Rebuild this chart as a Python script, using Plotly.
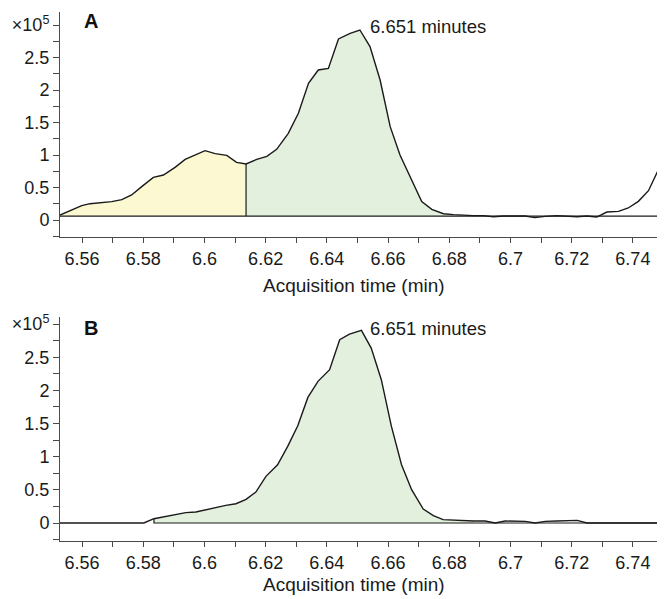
import plotly.graph_objects as go

# ---------------- data (intensity in units of 1e5 counts) ----------------
TIME_A = [6.5528, 6.5566, 6.5599, 6.5626, 6.5664, 6.5697, 6.5730, 6.5762, 6.5795, 6.5833,
          6.5866, 6.5904, 6.5937, 6.5969, 6.6002, 6.6035, 6.6073, 6.6105, 6.6136, 6.6171,
          6.6204, 6.6236, 6.6274, 6.6307, 6.6340, 6.6372, 6.6405, 6.6438, 6.6476, 6.6508,
          6.6541, 6.6574, 6.6607, 6.6639, 6.6672, 6.6710, 6.6743, 6.6781, 6.6814, 6.6846,
          6.6879, 6.6912, 6.6944, 6.6977, 6.7015, 6.7048, 6.7080, 6.7113, 6.7151, 6.7184,
          6.7217, 6.7249, 6.7282, 6.7315, 6.7353, 6.7385, 6.7418, 6.7451, 6.7483, 6.7505]
INT_A = [0.077, 0.154, 0.221, 0.251, 0.262, 0.282, 0.313, 0.385, 0.513, 0.656,
         0.692, 0.810, 0.933, 1.000, 1.067, 1.021, 0.995, 0.887, 0.862, 0.933,
         0.979, 1.087, 1.333, 1.641, 2.103, 2.308, 2.333, 2.785, 2.872, 2.923,
         2.667, 2.154, 1.436, 1.000, 0.667, 0.282, 0.164, 0.097, 0.082, 0.072,
         0.067, 0.067, 0.051, 0.062, 0.062, 0.062, 0.036, 0.056, 0.067, 0.062,
         0.051, 0.062, 0.046, 0.123, 0.133, 0.185, 0.287, 0.451, 0.769, 0.830]
BASE_A = 0.06
SPLIT_A = 6.6136      # boundary between the two integrated regions
END_A = 6.6846

TIME_B = [6.5527, 6.5560, 6.5593, 6.5626, 6.5658, 6.5691, 6.5724, 6.5757, 6.5790, 6.5802,
          6.5835, 6.5873, 6.5906, 6.5939, 6.5972, 6.6004, 6.6037, 6.6070, 6.6103, 6.6136,
          6.6168, 6.6201, 6.6239, 6.6272, 6.6305, 6.6338, 6.6371, 6.6409, 6.6442, 6.6474,
          6.6513, 6.6545, 6.6578, 6.6611, 6.6644, 6.6677, 6.6715, 6.6748, 6.6780, 6.6813,
          6.6846, 6.6879, 6.6917, 6.6950, 6.6983, 6.7015, 6.7048, 6.7081, 6.7114, 6.7152,
          6.7185, 6.7218, 6.7250, 6.7283, 6.7316, 6.7348, 6.7381, 6.7414, 6.7447, 6.7479,
          6.7505]
INT_B = [0.0, 0.0, 0.0, 0.0, 0.0, 0.0, 0.0, 0.0, 0.0, 0.0,
         0.065, 0.101, 0.136, 0.156, 0.166, 0.201, 0.226, 0.266, 0.291, 0.357,
         0.467, 0.704, 0.879, 1.156, 1.467, 1.894, 2.136, 2.312, 2.764, 2.849,
         2.905, 2.638, 2.161, 1.457, 0.879, 0.503, 0.211, 0.111, 0.050, 0.040,
         0.035, 0.030, 0.030, 0.000, 0.030, 0.030, 0.025, 0.000, 0.025, 0.030,
         0.030, 0.040, 0.000, 0.000, 0.000, 0.000, 0.000, 0.000, 0.000, 0.000,
         0.000]
BASE_B = 0.0
START_B = 6.5835
END_B = 6.6879

PEAK_LABEL = "6.651 minutes"
PEAK_TIME = 6.651
X_TICKS = [6.56, 6.57, 6.58, 6.59, 6.60, 6.61, 6.62, 6.63, 6.64, 6.65,
           6.66, 6.67, 6.68, 6.69, 6.70, 6.71, 6.72, 6.73, 6.74]
X_TICK_TEXT = ["6.56", "", "6.58", "", "6.6", "", "6.62", "", "6.64", "",
               "6.66", "", "6.68", "", "6.7", "", "6.72", "", "6.74"]
Y_TICKS = [-0.25, 0, 0.25, 0.5, 0.75, 1.0, 1.25, 1.5, 1.75, 2.0, 2.25, 2.5, 2.75, 3.0]
Y_TICK_TEXT = ["", "0", "", "0.5", "", "1", "", "1.5", "", "2", "", "2.5", "", "×10<sup>5</sup>"]
X_TITLE = "Acquisition time (min)"
PANELS = ["A", "B"]

# ---------------- styling ----------------
OFF = 8                     # page body margin of the html page
W, H = 665 - OFF, 599 - OFF
L = 60 - OFF
FONT = "Liberation Sans, Arial, sans-serif"
YELLOW = "#FBF8D2"
GREEN = "#E3F0DD"
LINE = "#1a1a1a"
AXIS = "#4a4a4a"
TXT = "#1a1a1a"


def seg(ts, vs, t0, t1):
    xs, ys = [], []
    for t, v in zip(ts, vs):
        if t0 - 1e-9 <= t <= t1 + 1e-9:
            xs.append(t)
            ys.append(v)
    return xs, ys


def fill_poly(ts, vs, t0, t1, base, color, xa, ya):
    xs, ys = seg(ts, vs, t0, t1)
    xs = xs + [xs[-1], xs[0], xs[0]]
    ys = ys + [base, base, ys[0]]
    return go.Scatter(x=xs, y=ys, fill="toself", fillcolor=color, mode="lines",
                      line=dict(width=0), hoverinfo="skip", xaxis=xa, yaxis=ya,
                      showlegend=False)


fig = go.Figure()

# Panel A
fig.add_trace(fill_poly(TIME_A, INT_A, TIME_A[0], SPLIT_A, BASE_A, YELLOW, "x", "y"))
fig.add_trace(fill_poly(TIME_A, INT_A, SPLIT_A, END_A, BASE_A, GREEN, "x", "y"))
fig.add_trace(go.Scatter(x=[TIME_A[0], TIME_A[-1]], y=[BASE_A, BASE_A], mode="lines",
                         line=dict(color=LINE, width=1.2), xaxis="x", yaxis="y", showlegend=False))
split_v = INT_A[TIME_A.index(SPLIT_A)]
fig.add_trace(go.Scatter(x=[SPLIT_A, SPLIT_A], y=[BASE_A, split_v], mode="lines",
                         line=dict(color=LINE, width=1.2), xaxis="x", yaxis="y", showlegend=False))
fig.add_trace(go.Scatter(x=TIME_A, y=INT_A, mode="lines", line=dict(color=LINE, width=1.4),
                         xaxis="x", yaxis="y", showlegend=False))

# Panel B
fig.add_trace(fill_poly(TIME_B, INT_B, START_B, END_B, BASE_B, GREEN, "x2", "y2"))
bx, by = seg(TIME_B, INT_B, START_B, END_B)
fig.add_trace(go.Scatter(x=[bx[0], bx[0], TIME_B[-1]], y=[by[0], BASE_B, BASE_B], mode="lines",
                         line=dict(color=LINE, width=1.2), xaxis="x2", yaxis="y2", showlegend=False))
fig.add_trace(go.Scatter(x=TIME_B, y=INT_B, mode="lines", line=dict(color=LINE, width=1.4),
                         xaxis="x2", yaxis="y2", showlegend=False))

xrange = [6.5528, 6.7505]
common_x = dict(range=xrange, showline=True, linecolor=AXIS, linewidth=1, ticks="outside",
                ticklen=5, tickcolor=AXIS, tickwidth=1, tickmode="array", tickvals=X_TICKS,
                ticktext=X_TICK_TEXT, tickfont=dict(family=FONT, size=18, color=TXT),
                showgrid=False, zeroline=False, automargin=False)
common_y = dict(showline=True, linecolor=AXIS, linewidth=1, ticks="outside", ticklen=6,
                tickcolor=AXIS, tickwidth=1, tickmode="array", tickvals=Y_TICKS,
                ticktext=Y_TICK_TEXT, tickfont=dict(family=FONT, size=18, color=TXT),
                showgrid=False, zeroline=False, automargin=False)


def ydom(top_px, bot_px):
    # pixel positions measured on the reference page
    return [1 - (bot_px - OFF) / H, 1 - (top_px - OFF) / H]


def px_x(px):
    return (px - 60) / (W - L)


def px_y(py):
    return 1 - (py - OFF) / H


fig.update_layout(
    width=W, height=H,
    margin=dict(l=L, r=0, t=0, b=0, pad=0),
    paper_bgcolor="white", plot_bgcolor="white",
    xaxis=dict(anchor="y", domain=[0, 1], **common_x),
    yaxis=dict(anchor="x", domain=ydom(12, 237), range=[-0.2615, 3.2], **common_y),
    xaxis2=dict(anchor="y2", domain=[0, 1], **common_x),
    yaxis2=dict(anchor="x2", domain=ydom(317, 541), range=[-0.2715, 3.107], **common_y),
    showlegend=False,
)

# axis titles
for ypx in [285, 584]:
    fig.add_annotation(x=px_x(354), y=px_y(ypx), xref="paper", yref="paper", text=X_TITLE,
                       showarrow=False, xanchor="center", yanchor="middle",
                       font=dict(family=FONT, size=19, color=TXT))

# peak labels
for xa, ya, yv in [("x", "y", 2.98), ("x2", "y2", 2.93)]:
    fig.add_annotation(x=PEAK_TIME + 0.0026, y=yv, xref=xa, yref=ya, text=PEAK_LABEL,
                       showarrow=False, xanchor="left", yanchor="middle",
                       font=dict(family=FONT, size=18.5, color=TXT))

# panel letters
for letter, ypx in zip(PANELS, [21, 328]):
    fig.add_annotation(x=px_x(91), y=px_y(ypx), xref="paper", yref="paper",
                       text=f"<b>{letter}</b>", showarrow=False, xanchor="center",
                       yanchor="middle", font=dict(family=FONT, size=20, color="#111"))

fig.write_html("out.html")
